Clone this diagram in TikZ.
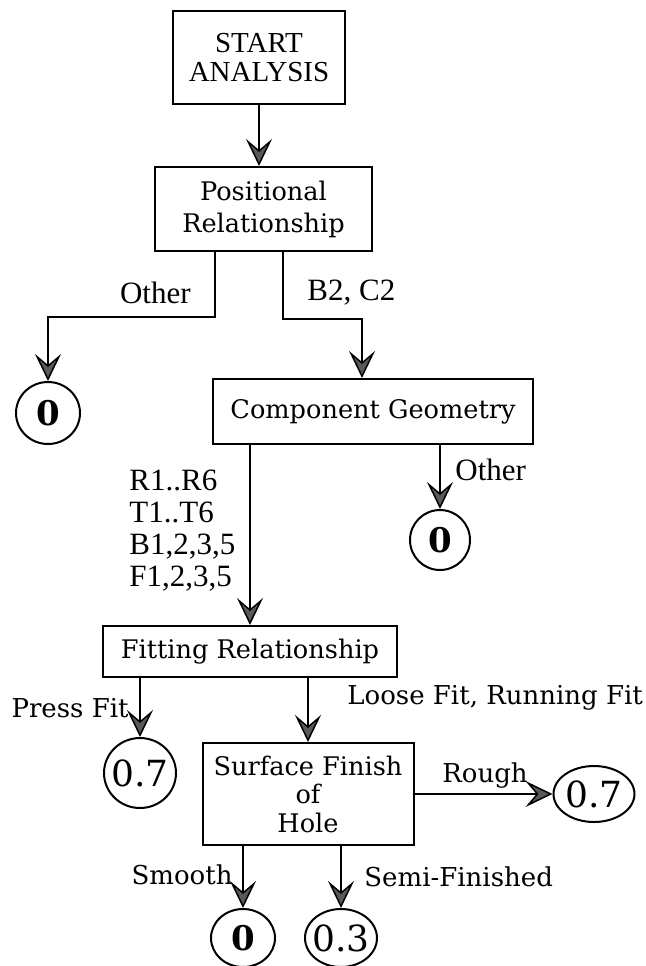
\documentclass[tikz,border=0pt]{standalone}
\usepackage{fontspec}
\setmainfont{DejaVu Serif}
\newfontfamily\tms{Liberation Serif}
\usetikzlibrary{arrows.meta,shapes.geometric}

\begin{document}
\begin{tikzpicture}[x=0.5pt,y=-0.5pt,
	box/.style={draw,line width=1pt,inner sep=0pt,align=center,font=\fontsize{12.8}{16}\selectfont},
	res/.style={draw,ellipse,line width=1pt,inner sep=0pt,font=\fontsize{18}{18}\selectfont},
	resb/.style={res,font=\bfseries\fontsize{17}{17}\selectfont},
	lbl/.style={inner sep=0pt,font=\fontsize{13}{15}\selectfont},
	tlbl/.style={inner sep=0pt,font=\tms\fontsize{15.5}{16}\selectfont},
	arr/.style={line width=0.75pt,-{Stealth[length=13.5pt,width=13pt,inset=5.5pt,fill=black!65]}}]
\useasboundingbox (0,0) rectangle (646,966);

% decision boxes
\node[box,minimum width=86pt,minimum height=46.5pt,font=\tms\fontsize{14.5}{14.5}\selectfont] (start) at (259,57.5) {START\\ANALYSIS};
\node[box,minimum width=108.5pt,minimum height=42pt] (posrel) at (263.5,209) {Positional\\Relationship};
\node[box,minimum width=160pt,minimum height=32.5pt] (compgeo) at (373,411.5) {Component Geometry};
\node[box,minimum width=147pt,minimum height=25.5pt] (fitrel) at (250,651.5) {Fitting Relationship};
\node[box,minimum width=105.5pt,minimum height=51pt,font=\fontsize{12.8}{14.25}\selectfont] (surf) at (308,794) {Surface Finish\\of\\Hole};

% end values
\node[resb,minimum width=32pt,minimum height=31pt] (zeroA) at (48,413) {0};
\node[resb,minimum width=30pt,minimum height=30pt] (zeroB) at (440,540) {0};
\node[res,inner xsep=-3pt,minimum width=36pt,minimum height=35pt] (pressv) at (140,773) {0.7};
\node[res,inner xsep=-3pt,minimum width=40.5pt,minimum height=28pt] (roughv) at (594,794) {0.7};
\node[resb,minimum width=32pt,minimum height=29pt] (smoothv) at (243,938) {0};
\node[res,inner xsep=-3pt,minimum width=36pt,minimum height=29pt] (semiv) at (341,938) {0.3};

% bends under Positional Relationship
\coordinate (othbend) at (215,317);
\coordinate (bcbend) at (283,319);
\coordinate (bcend) at (362,0);

\draw[arr] (start.south) -- (posrel.north -| start.south);
\draw[arr] (posrel.south -| othbend) -- (othbend) -| (zeroA.north);
\draw[arr] (posrel.south -| bcbend) -- (bcbend) -| (compgeo.north -| bcend);
\draw[arr] (fitrel.north |- compgeo.south) -- (fitrel.north);
\draw[arr] (zeroB.north |- compgeo.south) -- (zeroB.north);
\draw[arr] (pressv.north |- fitrel.south) -- (pressv.north);
\draw[arr] (surf.north |- fitrel.south) -- (surf.north);
\draw[arr] (surf.east) -- (roughv.west);
\draw[arr] (smoothv.north |- surf.south) -- (smoothv.north);
\draw[arr] (semiv.north |- surf.south) -- (semiv.north);

% branch labels
\node[tlbl,anchor=east] (othA) at (191,293) {Other};
\node[tlbl,anchor=west] (bclbl) at (307,293) {B2, C2};
\node[tlbl,anchor=west] (othB) at (455,470) {Other};
\node[tlbl,anchor=west,align=left] (geolbl) at (129,530.5) {R1..R6\\T1..T6\\B1,2,3,5\\F1,2,3,5};
\node[lbl,anchor=east] (presslbl) at (129,708) {Press Fit};
\node[lbl,anchor=west] (looselbl) at (347,698) {Loose Fit, Running Fit};
\node[lbl] (roughlbl) at (485,775) {Rough};
\node[lbl,anchor=east] (smoothlbl) at (233,875) {Smooth};
\node[lbl,anchor=west] (semilbl) at (364,877) {Semi-Finished};
\end{tikzpicture}
\end{document}
